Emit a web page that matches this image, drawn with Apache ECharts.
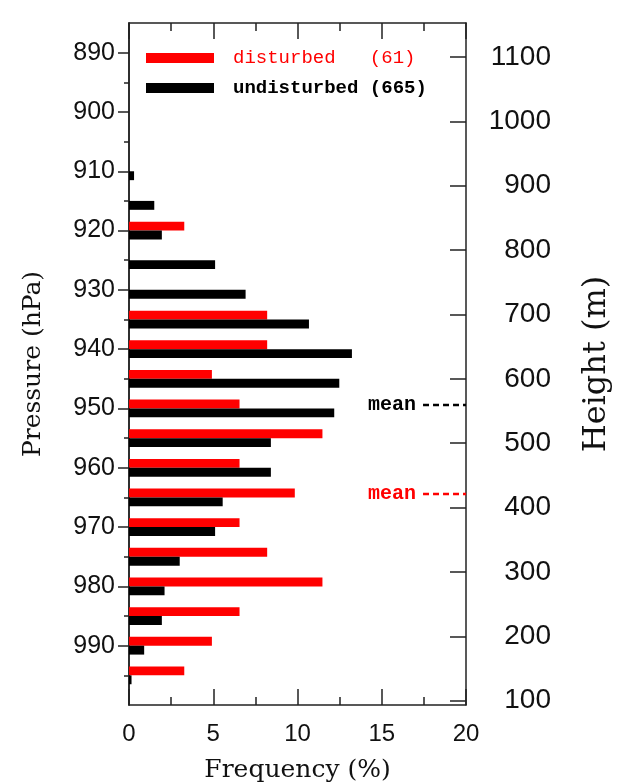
<!DOCTYPE html>
<html>
<head>
<meta charset="utf-8">
<script src="https://cdn.jsdelivr.net/npm/echarts@6/dist/echarts.min.js"></script>
<style>
html,body{margin:0;padding:0;background:#fff;}
#chart{width:632px;height:782px;}
</style>
</head>
<body>
<div id="chart"></div>
<script>
// ---- data ----
const pressureBins = [910, 915, 920, 925, 930, 935, 940, 945, 950, 955, 960, 965, 970, 975, 980, 985, 990, 995];
const disturbedPct = [0, 0, 3.28, 0, 0, 8.20, 8.20, 4.92, 6.56, 11.48, 6.56, 9.84, 6.56, 8.20, 11.48, 6.56, 4.92, 3.28];
const undisturbedPct = [0.30, 1.50, 1.95, 5.11, 6.92, 10.68, 13.23, 12.48, 12.18, 8.42, 8.42, 5.56, 5.11, 3.01, 2.11, 1.95, 0.90, 0.15];
const seriesNames = ['disturbed', 'undisturbed'];
const sampleCounts = [61, 665];
const meanPressure = [964.4, 949.4];
const meanLineFreq = [17.45, 20];
const pressureMajorTicks = [890, 900, 910, 920, 930, 940, 950, 960, 970, 980, 990];
const pressureMinorTicks = [895, 905, 915, 925, 935, 945, 955, 965, 975, 985, 995];
const heightTicks = [100, 200, 300, 400, 500, 600, 700, 800, 900, 1000, 1100];
const freqRange = [0, 20];
const pressureRange = [885, 1000];
const heightRange = [93.3, 1152.8];

// ---- styles ----
const RED = '#ff0000', BLACK = '#000000', AXIS = '#222222';
const BAR_HALF = 1.5; // hPa thickness of each bar

function barSeries(name, values, color, above) {
  return {
    name: name, type: 'custom', xAxisIndex: 0, yAxisIndex: 0,
    itemStyle: { color: color },
    encode: { x: 1, y: 0 },
    data: pressureBins.map((p, i) => [p, values[i]]),
    renderItem: function (params, api) {
      const p = api.value(0), v = api.value(1);
      const p0 = above ? p - BAR_HALF : p;
      const p1 = above ? p : p + BAR_HALF;
      const a = api.coord([0, p0]);
      const b = api.coord([v, p1]);
      return {
        type: 'rect',
        shape: { x: a[0], y: Math.min(a[1], b[1]), width: b[0] - a[0], height: Math.abs(b[1] - a[1]) },
        style: { fill: color }
      };
    },
    z: 3
  };
}

function meanSeries(p, color) {
  return {
    type: 'line', xAxisIndex: 0, yAxisIndex: 0, silent: true,
    symbol: 'rect', symbolSize: 0,
    lineStyle: { color: color, width: 2.5, type: [6, 4] },
    data: [
      { value: [meanLineFreq[0], p], label: { show: true, position: 'left', distance: 7, formatter: 'mean',
        color: color, fontFamily: 'Liberation Mono', fontWeight: 'bold', fontSize: 20 } },
      { value: [meanLineFreq[1], p] }
    ],
    z: 4
  };
}

const axisLine = { show: true, onZero: false, lineStyle: { color: AXIS, width: 1.5 } };
const tickStyle = { color: AXIS, width: 1.5 };
const plain = v => String(v);

const option = {
  backgroundColor: '#ffffff',
  animation: false,
  grid: { left: 129, top: 23, width: 337, height: 682, containLabel: false, outerBoundsMode: 'none' },
  legend: {
    orient: 'vertical', left: 141, top: 43, itemWidth: 68, itemHeight: 10, itemGap: 10,
    icon: 'rect',
    data: [
      { name: seriesNames[0], textStyle: { color: RED, fontWeight: 'normal' } },
      { name: seriesNames[1], textStyle: { color: BLACK, fontWeight: 'bold' } }
    ],
    formatter: function (name) {
      const i = seriesNames.indexOf(name);
      return name.padEnd(12, ' ') + '(' + sampleCounts[i] + ')';
    },
    textStyle: { fontFamily: 'Liberation Mono', fontSize: 19, lineHeight: 20, padding: [0, 0, 0, 14] }
  },
  xAxis: [
    {
      type: 'value', position: 'bottom', min: freqRange[0], max: freqRange[1], interval: 5,
      axisLine: axisLine,
      axisTick: { show: true, inside: true, length: 16, lineStyle: tickStyle },
      minorTick: { show: true, splitNumber: 2, length: 8, lineStyle: tickStyle },
      splitLine: { show: false }, minorSplitLine: { show: false },
      axisLabel: { fontFamily: 'Liberation Sans', fontSize: 24, color: '#111', margin: 17, formatter: plain },
      name: 'Frequency (%)', nameLocation: 'middle', nameGap: 53,
      nameTextStyle: { fontFamily: 'DejaVu Serif', fontSize: 25, color: '#111' }
    },
    {
      type: 'value', position: 'top', min: freqRange[0], max: freqRange[1], interval: 5,
      axisLine: axisLine,
      axisTick: { show: true, inside: true, length: 16, lineStyle: tickStyle },
      minorTick: { show: true, splitNumber: 2, length: 8, lineStyle: tickStyle },
      splitLine: { show: false }, minorSplitLine: { show: false },
      axisLabel: { show: false }
    }
  ],
  yAxis: [
    {
      type: 'value', position: 'left', inverse: true, min: pressureRange[0], max: pressureRange[1],
      axisLine: axisLine,
      axisTick: { show: true, inside: false, length: 11, lineStyle: tickStyle, customValues: pressureMajorTicks },
      axisLabel: { fontFamily: 'Liberation Sans', fontSize: 25, color: '#111', margin: 14, customValues: pressureMajorTicks, formatter: plain },
      splitLine: { show: false },
      name: 'Pressure (hPa)', nameLocation: 'middle', nameGap: 83, nameRotate: 90,
      nameTextStyle: { fontFamily: 'DejaVu Serif', fontSize: 25, color: '#111' }
    },
    {
      type: 'value', position: 'left', inverse: true, min: pressureRange[0], max: pressureRange[1],
      axisLine: axisLine,
      axisTick: { show: true, inside: false, length: 5, lineStyle: tickStyle, customValues: pressureMinorTicks },
      axisLabel: { show: false },
      splitLine: { show: false }
    },
    {
      type: 'value', position: 'right', min: heightRange[0], max: heightRange[1],
      axisLine: axisLine,
      axisTick: { show: true, inside: true, length: 16, lineStyle: tickStyle, customValues: heightTicks },
      axisLabel: { fontFamily: 'Liberation Sans', fontSize: 28, color: '#111', margin: 85, align: 'right', customValues: heightTicks, formatter: plain },
      splitLine: { show: false },
      name: 'Height (m)', nameLocation: 'middle', nameGap: 115, nameRotate: 90,
      nameTextStyle: { fontFamily: 'DejaVu Serif', fontSize: 32, color: '#111' }
    }
  ],
  series: [
    barSeries(seriesNames[0], disturbedPct, RED, true),
    barSeries(seriesNames[1], undisturbedPct, BLACK, false),
    meanSeries(meanPressure[1], BLACK),
    meanSeries(meanPressure[0], RED)
  ]
};

const chart = echarts.init(document.getElementById('chart'), null, { renderer: 'canvas' });
chart.setOption(option);
</script>
</body>
</html>
